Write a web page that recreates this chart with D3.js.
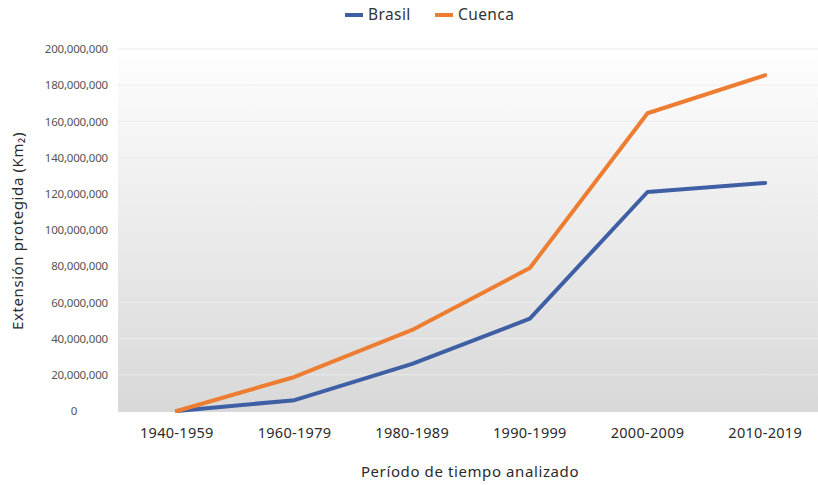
<!DOCTYPE html>
<html>
<head>
<meta charset="utf-8">
<script src="https://cdn.jsdelivr.net/npm/d3@7"></script>
<style>
  body { margin: 0; background: #fff; }
  svg { display: block; font-family: "Noto Sans", "Open Sans", sans-serif; }
</style>
</head>
<body>
<div id="chart"></div>
<script>
// data
var periods = ["1940-1959", "1960-1979", "1980-1989", "1990-1999", "2000-2009", "2010-2019"];
var brasil = [0, 6000000, 26000000, 51000000, 121000000, 126000000];
var cuenca = [0, 18800000, 44800000, 79000000, 164500000, 185500000];
var seriesNames = ["Brasil", "Cuenca"];
var yTicks = [0, 20000000, 40000000, 60000000, 80000000, 100000000, 120000000, 140000000, 160000000, 180000000, 200000000];

var W = 818, H = 485;
var margin = {top: 49, right: 0, bottom: 74, left: 118};

var svg = d3.select("#chart").append("svg")
    .attr("width", W)
    .attr("height", H);

// background gradient of the plot area
var defs = svg.append("defs");
var grad = defs.append("linearGradient")
    .attr("id", "bg")
    .attr("x1", 0).attr("y1", 0).attr("x2", 0).attr("y2", 1);
grad.append("stop").attr("offset", "0%").attr("stop-color", "#ffffff");
grad.append("stop").attr("offset", "100%").attr("stop-color", "#d8d8d8");

var x = d3.scaleBand()
    .domain(periods)
    .range([margin.left, 824]);

var y = d3.scaleLinear()
    .domain([0, 200000000])
    .range([411, margin.top]);

svg.append("rect")
    .attr("x", margin.left)
    .attr("y", 40)
    .attr("width", W - margin.left)
    .attr("height", 412 - 40)
    .attr("fill", "url(#bg)");

// gridlines
svg.append("g")
  .selectAll("line")
  .data(yTicks.slice(1))
  .enter()
  .append("line")
    .attr("x1", margin.left)
    .attr("x2", W)
    .attr("y1", function(d) { return y(d) })
    .attr("y2", function(d) { return y(d) })
    .attr("stroke", "#ececec")
    .attr("stroke-width", 1);

// y axis labels
var yAxis = svg.append("g")
    .attr("transform", "translate(" + (margin.left - 10) + ",0)")
    .call(d3.axisLeft(y).tickValues(yTicks).tickSize(0).tickFormat(d3.format(",")));
yAxis.select(".domain").remove();
yAxis.selectAll("text")
    .attr("x", 0)
    .style("font-family", "'Noto Sans', sans-serif")
    .style("font-size", "11.5px")
    .style("letter-spacing", "-0.2px")
    .attr("fill", "#555");
// "0" is centred under the other labels in the original
yAxis.selectAll("text").filter(function(d) { return d === 0 })
    .attr("text-anchor", "middle")
    .attr("x", -34);

// x axis labels
var xAxis = svg.append("g")
    .attr("transform", "translate(0," + 425 + ")")
    .call(d3.axisBottom(x).tickSize(0));
xAxis.select(".domain").remove();
xAxis.selectAll("text")
    .style("font-family", "'Noto Sans', sans-serif")
    .style("font-size", "14.5px")
    .style("letter-spacing", "0.3px")
    .attr("fill", "#2b2b2b");

var colors = {Brasil: "#3f5fa5", Cuenca: "#ed7d31"};
var dataReady = [
  {name: "Brasil", values: brasil},
  {name: "Cuenca", values: cuenca}
];

var line = d3.line()
    .x(function(d, i) { return x(periods[i]) + x.bandwidth() / 2 })
    .y(function(d) { return y(d) });

svg.selectAll("myLines")
  .data(dataReady)
  .enter()
  .append("path")
    .attr("d", function(d) { return line(d.values) })
    .attr("stroke", function(d) { return colors[d.name] })
    .attr("stroke-width", 4)
    .attr("stroke-linejoin", "round")
    .attr("stroke-linecap", "round")
    .attr("fill", "none");

// legend
var legendX = [345, 435];
var leg = svg.selectAll("myLegend")
  .data(seriesNames)
  .enter()
  .append("g")
    .attr("transform", function(d, i) { return "translate(" + legendX[i] + ",15)" });
leg.append("line")
    .attr("x1", 0).attr("x2", 18)
    .attr("stroke", function(d) { return colors[d] })
    .attr("stroke-width", 4);
leg.append("text")
    .attr("x", 23)
    .attr("dy", "0.35em")
    .style("font-size", "15.5px")
    .style("letter-spacing", "0.4px")
    .attr("fill", "#333")
    .text(function(d) { return d });

// axis titles
svg.append("text")
    .attr("text-anchor", "middle")
    .attr("transform", "translate(18,231) rotate(-90)")
    .attr("dy", "0.35em")
    .style("font-size", "15px")
    .style("letter-spacing", "0.6px")
    .attr("fill", "#2b2b2b")
    .text("Extensión protegida (Km₂)");

svg.append("text")
    .attr("text-anchor", "middle")
    .attr("x", 470)
    .attr("y", 472)
    .attr("dy", "0.35em")
    .style("font-size", "15px")
    .style("letter-spacing", "0.6px")
    .attr("fill", "#2b2b2b")
    .text("Período de tiempo analizado");
</script>
</body>
</html>
